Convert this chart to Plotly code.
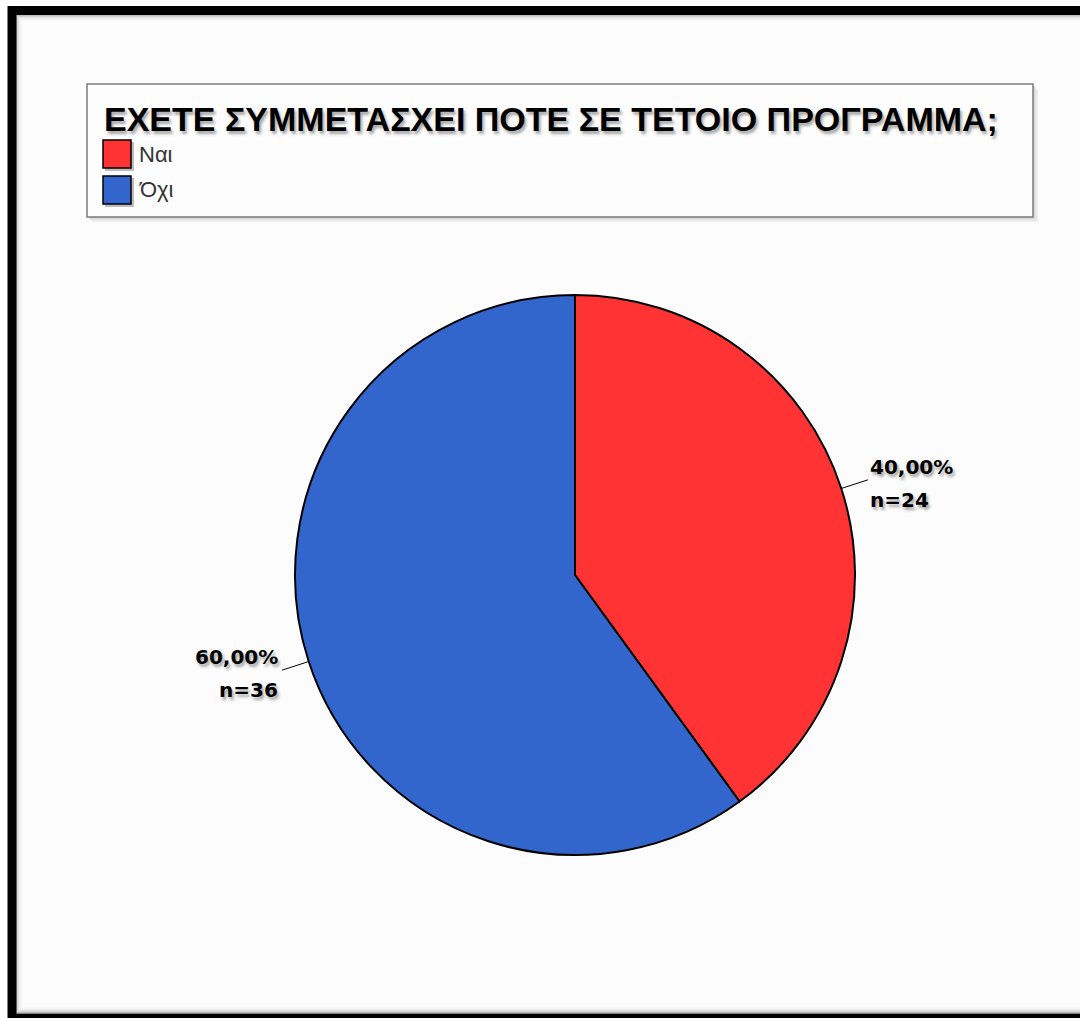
import math
import plotly.graph_objects as go

# ---- data ----
title_text = "ΕΧΕΤΕ ΣΥΜΜΕΤΑΣΧΕΙ ΠΟΤΕ ΣΕ ΤΕΤΟΙΟ ΠΡΟΓΡΑΜΜΑ;"
categories = ["Ναι", "Όχι"]
counts = [24, 36]
colors = ["#FF3333", "#3366CC"]

W, H = 1080, 1018


def px(x):
    return x / W


def py(y):
    return 1 - y / H


# pie geometry (pixels)
CX, CY, R = 575, 575, 280

fig = go.Figure()
fig.add_trace(go.Pie(
    labels=categories,
    values=counts,
    sort=False,
    direction="clockwise",
    rotation=0,
    marker=dict(colors=colors, line=dict(color="black", width=2)),
    textinfo="none",
    hoverinfo="skip",
    showlegend=False,
    domain=dict(x=[px(CX - R), px(CX + R)], y=[py(CY + R), py(CY - R)]),
))

shapes = []
annotations = []

# frame & background
shapes.append(dict(type="rect", xref="paper", yref="paper", x0=px(16), x1=px(1095), y0=py(1013), y1=py(15),
                   fillcolor="#fcfcfc", line=dict(width=0), layer="below"))
for i, c in enumerate(["#bdbdbd", "#d2d2d2", "#e2e2e2", "#ececec", "#f3f3f3", "#f8f8f8"]):
    shapes.append(dict(type="rect", xref="paper", yref="paper",
                       x0=px(16.5 + i), x1=px(1100), y0=py(1012.5 - i), y1=py(15.5 + i),
                       line=dict(color=c, width=1), fillcolor="rgba(0,0,0,0)", layer="below"))
# thick black frame
shapes.append(dict(type="rect", xref="paper", yref="paper", x0=px(12), x1=px(1110), y0=py(1018), y1=py(10.5),
                   line=dict(color="black", width=9), fillcolor="rgba(0,0,0,0)", layer="above"))

# legend box with soft shadow
for i, c in enumerate(["#efefef", "#e4e4e4", "#dadada"]):
    off = 5 - i * 1.5
    shapes.append(dict(type="rect", xref="paper", yref="paper",
                       x0=px(87 + off), x1=px(1033 + off), y0=py(217 + off), y1=py(84 + off),
                       fillcolor=c, line=dict(width=0), layer="below"))
shapes.append(dict(type="rect", xref="paper", yref="paper", x0=px(87), x1=px(1033), y0=py(217), y1=py(84),
                   fillcolor="#fdfdfd", line=dict(color="#7a7a7a", width=1.5), layer="below"))

annotations.append(dict(text="<b>" + title_text + "</b>", xref="paper", yref="paper",
                        x=px(102), y=py(119), xanchor="left", yanchor="middle", showarrow=False,
                        font=dict(family="Liberation Sans, Arial", size=34, color="black",
                                  shadow="2px 3px 3px rgba(0,0,0,0.35)")))

for i, (cat, col) in enumerate(zip(categories, colors)):
    top = 140 + i * 36
    shapes.append(dict(type="rect", xref="paper", yref="paper", x0=px(105), x1=px(134), y0=py(top + 31), y1=py(top + 2),
                       fillcolor="rgba(0,0,0,0.25)", line=dict(width=0)))
    shapes.append(dict(type="rect", xref="paper", yref="paper", x0=px(103), x1=px(131), y0=py(top + 28), y1=py(top),
                       fillcolor=col, line=dict(color="black", width=1.5)))
    annotations.append(dict(text=cat, xref="paper", yref="paper", x=px(137), y=py(top + 14),
                            xanchor="left", yanchor="middle", showarrow=False,
                            font=dict(family="Liberation Sans, Arial", size=22, color="#333")))

# slice labels with leader lines, placed from the data angles
total = sum(counts)
start = 0.0
for cat, v in zip(categories, counts):
    frac = v / total
    mid = (start + frac / 2) * 2 * math.pi
    start += frac
    sx, sy = math.sin(mid), -math.cos(mid)
    ex, ey = CX + R * sx, CY + R * sy
    ox, oy = CX + R * 1.1 * sx, CY + R * 1.1 * sy
    shapes.append(dict(type="line", xref="paper", yref="paper", x0=px(ex), y0=py(ey), x1=px(ox), y1=py(oy),
                       line=dict(color="black", width=1)))
    anchor = "left" if sx >= 0 else "right"
    tx = ox + (0 if sx >= 0 else -2)
    pct = f"{frac * 100:.2f}".replace(".", ",") + "%"
    fnt = dict(family="DejaVu Sans", size=20, color="black",
               shadow="2px 3px 3px rgba(0,0,0,0.35)")
    annotations.append(dict(text="<b>" + pct + "</b>", xref="paper", yref="paper", x=px(tx), y=py(oy - 13),
                            xanchor=anchor, yanchor="middle", showarrow=False, font=fnt))
    annotations.append(dict(text="<b>n=" + str(v) + "</b>", xref="paper", yref="paper", x=px(tx), y=py(oy + 20),
                            xanchor=anchor, yanchor="middle", showarrow=False, font=fnt))

fig.update_layout(
    width=W, height=H,
    margin=dict(l=0, r=0, t=0, b=0),
    paper_bgcolor="white",
    plot_bgcolor="white",
    shapes=shapes,
    annotations=annotations,
    showlegend=False,
)

fig.write_html("out.html", config={"displayModeBar": False},
               post_script="document.body.style.margin='0';document.body.style.overflow='hidden';")
